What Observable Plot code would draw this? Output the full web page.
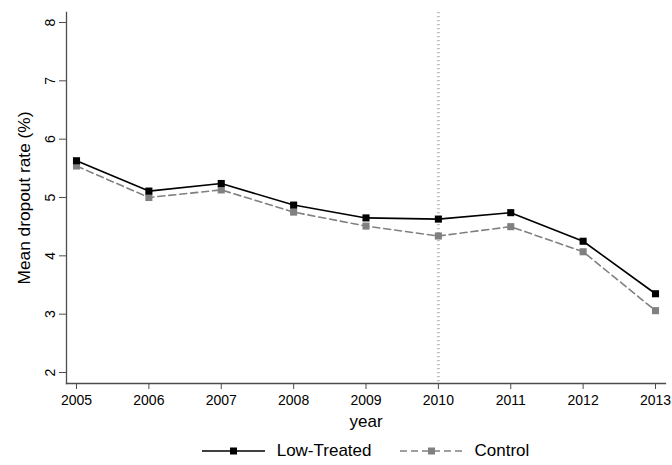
<!DOCTYPE html>
<html>
<head>
<meta charset="utf-8">
<script src="https://cdn.jsdelivr.net/npm/d3@7"></script>
<script src="https://cdn.jsdelivr.net/npm/@observablehq/plot@0.6"></script>
<style>
  html, body { margin: 0; padding: 0; background: #fff; }
  #wrap { width: 672px; font-family: "Liberation Sans", Arial, sans-serif; }
  .legend { display: flex; justify-content: center; align-items: center; height: 28px;
            padding-left: 66px; padding-right: 7px; font-size: 17px; color: #000; }
  .legend .item { display: flex; align-items: center; margin: 0 14px; }
  .legend svg { margin-right: 12px; }
</style>
</head>
<body>
<div id="wrap"></div>
<script>
// Mean dropout rate (%) by year, low-treated vs. control schools
const years = [2005, 2006, 2007, 2008, 2009, 2010, 2011, 2012, 2013];
const lowTreated = [5.63, 5.11, 5.24, 4.87, 4.65, 4.63, 4.74, 4.25, 3.35];
const control = [5.54, 5.00, 5.13, 4.75, 4.51, 4.34, 4.50, 4.07, 3.06];
const yTicks = [2, 3, 4, 5, 6, 7, 8];
const treatmentYear = [2010];
const seriesNames = ["Low-Treated", "Control"];
const seriesColors = ["#000000", "#808080"];
const seriesDash = [null, "7,4"];

const rows = years.flatMap((year, i) => [
  {year, value: lowTreated[i], series: seriesNames[0]},
  {year, value: control[i], series: seriesNames[1]}
]);
const bySeries = name => rows.filter(d => d.series === name);

const chart = Plot.plot({
  width: 672,
  height: 437,
  marginLeft: 66,
  marginRight: 7,
  marginTop: 12,
  marginBottom: 54,
  style: {fontFamily: "'Liberation Sans', Arial, sans-serif", fontSize: "14px", color: "#000", background: "#fff", overflow: "visible"},
  x: {domain: [2005, 2013], range: [76, 655]},
  y: {domain: [2, 8], range: [372, 22]},
  marks: [
    Plot.ruleX(treatmentYear, {stroke: "#c2c2c2", strokeWidth: 3, strokeDasharray: "1.3,2.7"}),
    Plot.frame({anchor: "left", stroke: "#4d4d4d", strokeWidth: 1.3}),
    Plot.frame({anchor: "bottom", stroke: "#4d4d4d", strokeWidth: 1.3}),
    Plot.axisX({ticks: years, tickFormat: d => String(d), tickSize: 6, tickPadding: 6,
      fontSize: 14, stroke: "#4d4d4d", label: null}),
    Plot.axisY({ticks: yTicks, tickFormat: d => String(d), tickSize: 7, tickPadding: 5, tickRotate: -90,
      fontSize: 14, stroke: "#4d4d4d", label: null}),
    Plot.text(["year"], {frameAnchor: "bottom", dy: 31, fontSize: 17, lineAnchor: "top"}),
    Plot.text(["Mean dropout rate (%)"], {frameAnchor: "left", textAnchor: "middle", dx: -42, rotate: -90, fontSize: 17.3}),
    Plot.line(bySeries(seriesNames[1]), {x: "year", y: "value", stroke: seriesColors[1], strokeWidth: 1.6, strokeDasharray: seriesDash[1]}),
    Plot.dot(bySeries(seriesNames[1]), {x: "year", y: "value", symbol: "square", r: 4, fill: seriesColors[1]}),
    Plot.line(bySeries(seriesNames[0]), {x: "year", y: "value", stroke: seriesColors[0], strokeWidth: 1.6}),
    Plot.dot(bySeries(seriesNames[0]), {x: "year", y: "value", symbol: "square", r: 4, fill: seriesColors[0]})
  ]
});

const wrap = document.getElementById("wrap");
wrap.appendChild(chart);

// Legend row under the plot
const legend = document.createElement("div");
legend.className = "legend";
seriesNames.forEach((name, i) => {
  const item = document.createElement("div");
  item.className = "item";
  const dash = seriesDash[i] ? `stroke-dasharray="${seriesDash[i]}"` : "";
  item.innerHTML = `<svg width="63" height="12"><line x1="0" x2="63" y1="6" y2="6" stroke="${seriesColors[i]}" stroke-width="1.6" ${dash}/><rect x="28" y="2.5" width="7" height="7" fill="${seriesColors[i]}"/></svg><span>${name}</span>`;
  legend.appendChild(item);
});
wrap.appendChild(legend);
</script>
</body>
</html>
